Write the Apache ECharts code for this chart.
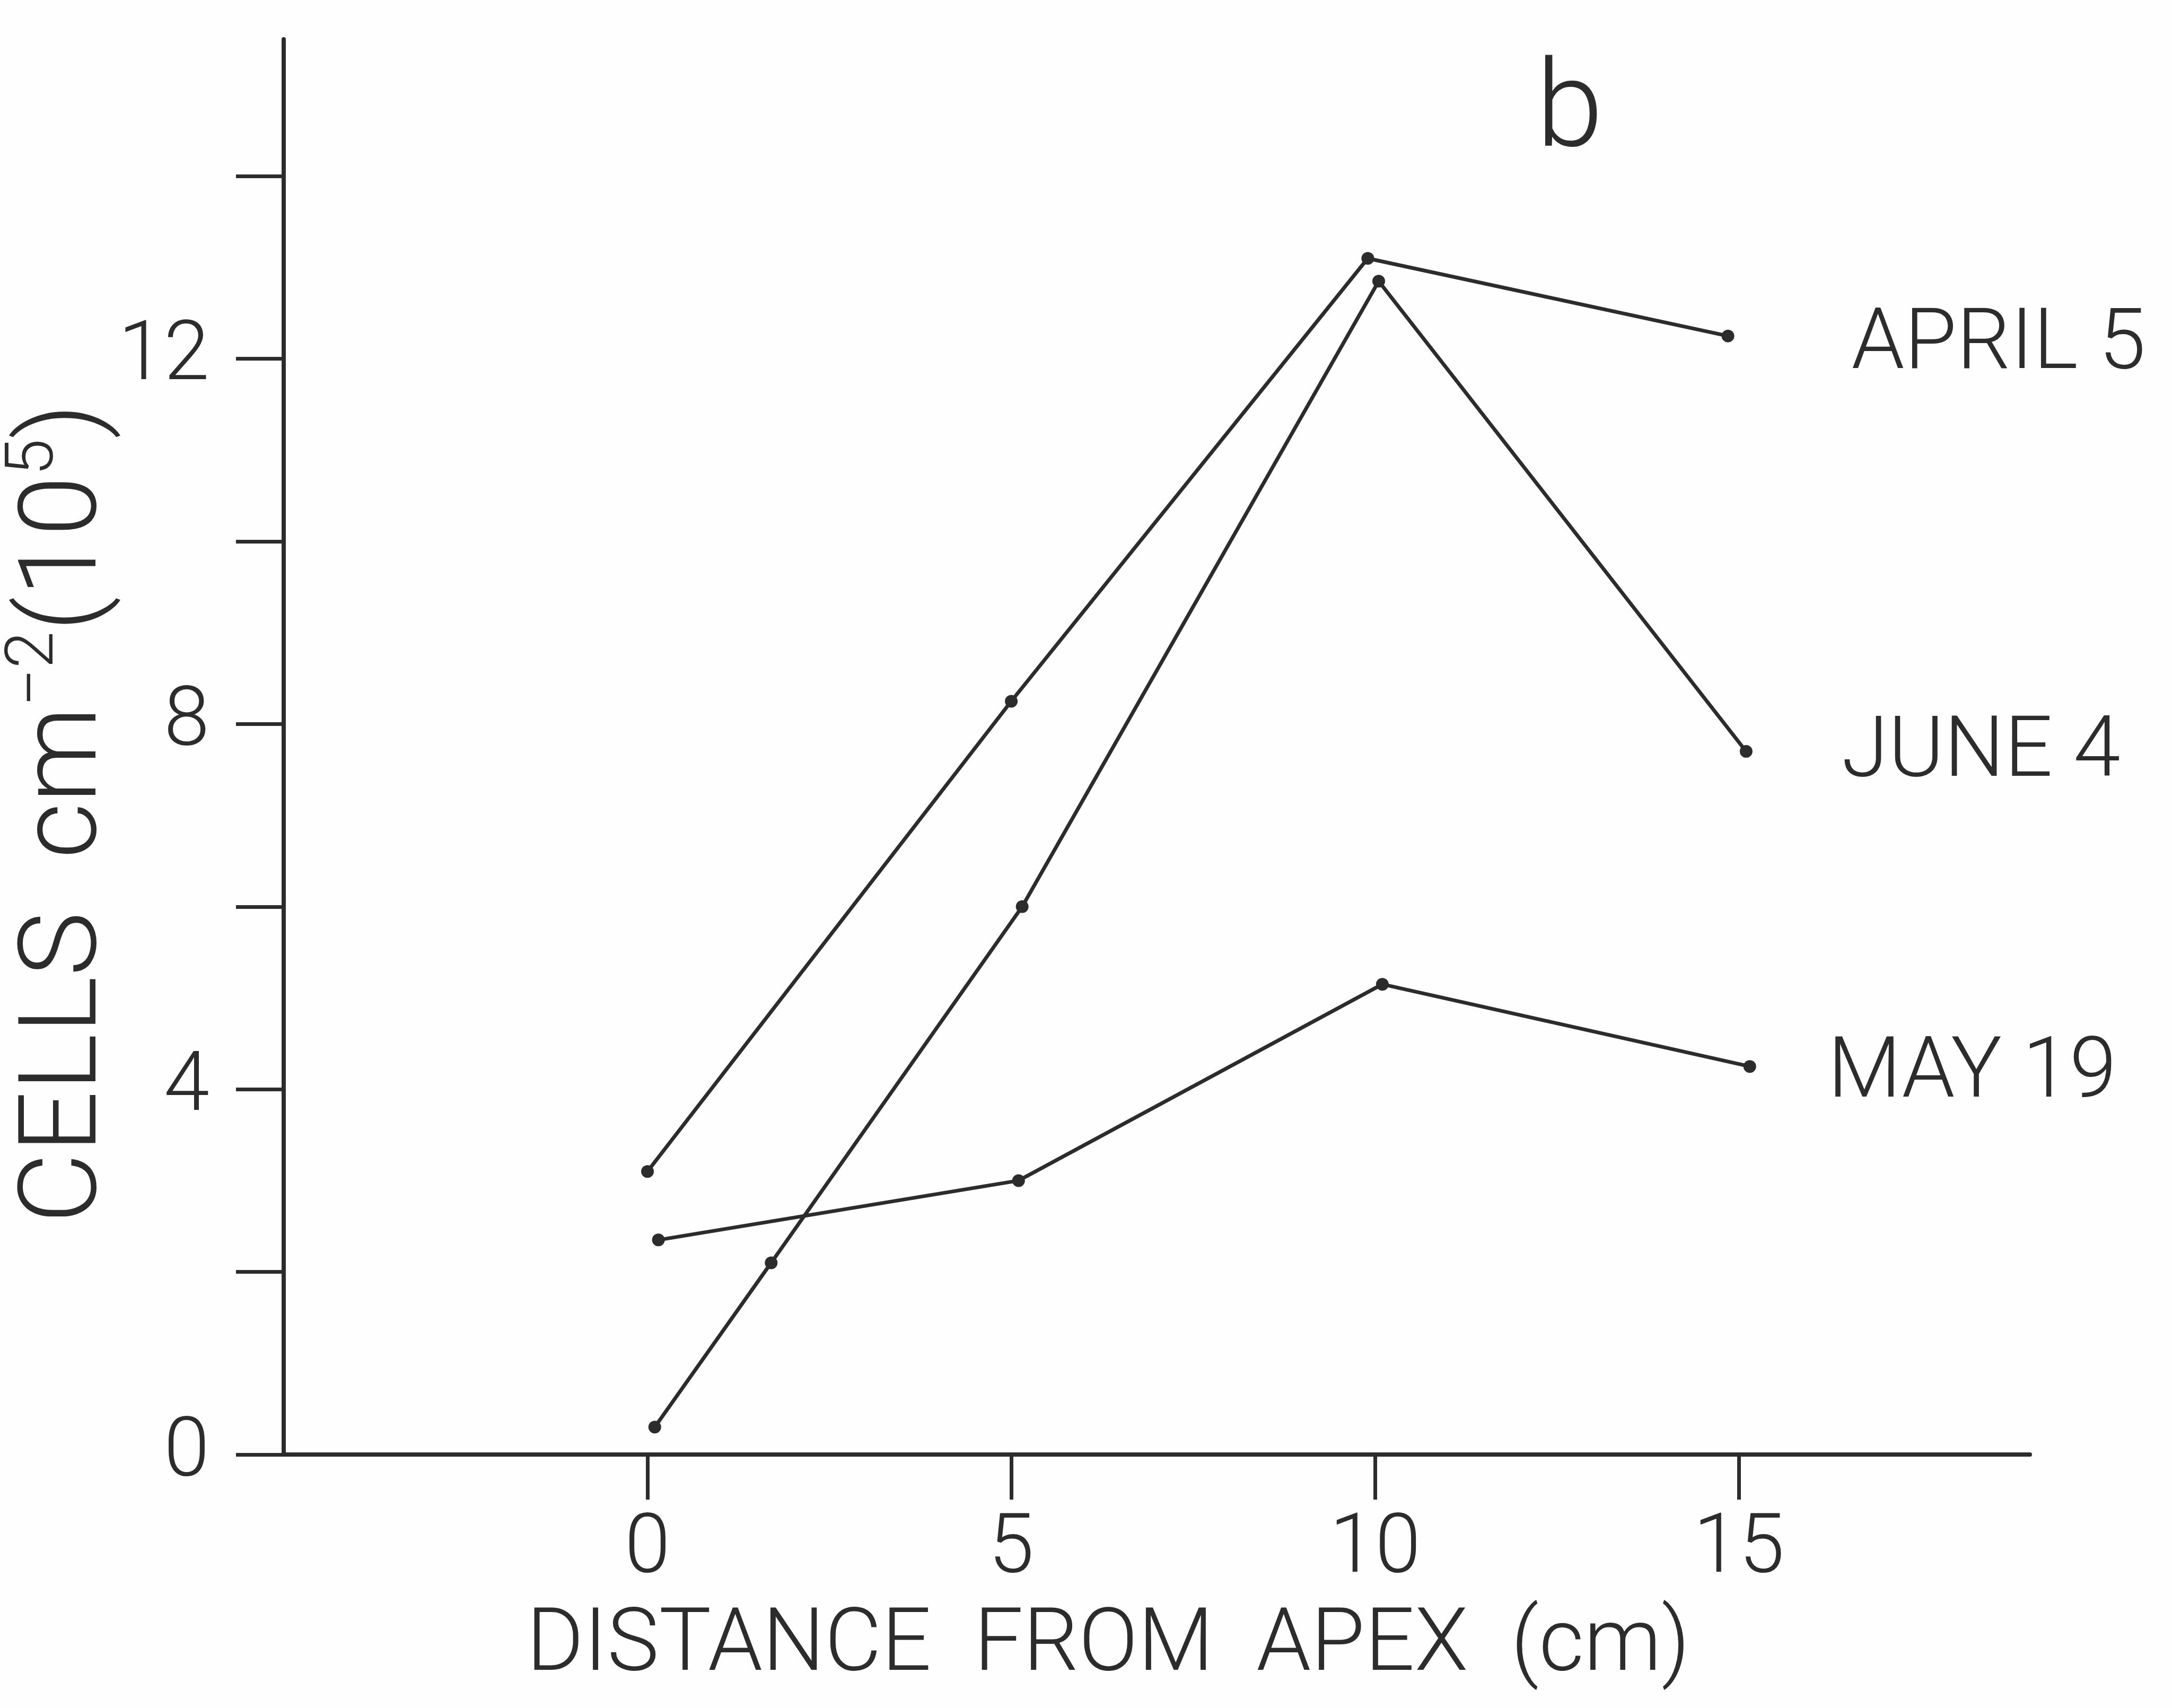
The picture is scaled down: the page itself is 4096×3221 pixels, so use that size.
<!DOCTYPE html>
<html>
<head>
<meta charset="utf-8">
<script src="https://cdn.jsdelivr.net/npm/echarts@6/dist/echarts.min.js"></script>
<style>
html,body{margin:0;padding:0;background:#fdfefd;}
#c{width:4096px;height:3221px;}
</style>
</head>
<body>
<div id="c"></div>
<script>
// ---- data ----
const seriesNames = ['APRIL 5', 'JUNE 4', 'MAY 19'];
const april5X = [0, 5, 9.9, 14.85];
const april5Y = [3.1, 8.25, 13.1, 12.25];
const june4X = [0.1, 1.7, 5.15, 10.05, 15.1];
const june4Y = [0.3, 2.1, 6.0, 12.85, 7.7];
const may19X = [0.15, 5.1, 10.1, 15.15];
const may19Y = [2.35, 3.0, 5.15, 4.25];
const xTickValues = [0, 5, 10, 15];
const yTickValues = [0, 2, 4, 6, 8, 10, 12, 14];
const yLabelValues = [0, 4, 8, 12];
const xTitle = 'DISTANCE  FROM  APEX  (cm)';
const panelLetter = 'b';

// ---- styles ----
const INK = '#2c2c2c';
const FONT = 'Roboto, "DejaVu Sans", sans-serif';
const FW = 300;

function pairs(xs, ys) { return xs.map((x, i) => [x, ys[i]]); }

function mkSeries(name, xs, ys, dist, off) {
  return {
    type: 'line',
    name: name,
    data: pairs(xs, ys),
    symbol: 'circle',
    symbolSize: 24,
    showSymbol: true,
    lineStyle: { color: INK, width: 7 },
    itemStyle: { color: INK },
    endLabel: {
      show: true,
      formatter: () => name,
      distance: dist,
      offset: [0, off],
      fontSize: 160,
      fontFamily: FONT,
      fontWeight: FW,
      color: INK
    },
    emphasis: { disabled: true },
    silent: true,
    animation: false
  };
}

const chart = echarts.init(document.getElementById('c'), null, { renderer: 'canvas' });
chart.setOption({
  backgroundColor: '#fdfefd',
  animation: false,
  grid: { left: 535, right: 268, top: 74, bottom: 478, containLabel: false },
  xAxis: {
    type: 'value',
    min: -5, max: 19, interval: 5,
    axisLine: { show: true, onZero: false, lineStyle: { color: INK, width: 8 } },
    axisTick: { show: true, customValues: xTickValues, length: 85, inside: false, lineStyle: { color: INK, width: 7 } },
    axisLabel: {
      show: true, customValues: xTickValues, margin: 105,
      formatter: v => (xTickValues.indexOf(v) >= 0 ? String(v) : ''),
      fontSize: 155, fontFamily: FONT, fontWeight: FW, color: INK
    },
    splitLine: { show: false }
  },
  yAxis: {
    type: 'value',
    min: 0, max: 15.5, interval: 2,
    axisLine: { show: true, onZero: false, lineStyle: { color: INK, width: 8 } },
    axisTick: { show: true, customValues: yTickValues, length: 90, inside: false, lineStyle: { color: INK, width: 7 } },
    axisLabel: {
      show: true, customValues: yLabelValues, margin: 140,
      formatter: v => (yLabelValues.indexOf(v) >= 0 ? String(v) : ''),
      fontSize: 155, fontFamily: FONT, fontWeight: FW, color: INK
    },
    splitLine: { show: false }
  },
  series: [
    mkSeries(seriesNames[0], april5X, april5Y, 233, 20),
    mkSeries(seriesNames[1], june4X, june4Y, 180, 6),
    mkSeries(seriesNames[2], may19X, may19Y, 147, 17)
  ],
  graphic: [
    {
      type: 'text', x: 2090, y: 3108, silent: true,
      style: {
        text: xTitle, fontSize: 165, fontFamily: FONT, fontWeight: FW,
        fill: INK, align: 'center', verticalAlign: 'middle'
      }
    },
    {
      type: 'text', x: 129, y: 1534, rotation: Math.PI / 2, silent: true,
      style: {
        text: '{a|CELLS  cm}{s|\u22122}{a|(10}{s|5}{a|)}',
        align: 'center', verticalAlign: 'middle', fill: INK,
        fontFamily: FONT, fontWeight: FW, fontSize: 205,
        rich: {
          a: { fontSize: 205, fontFamily: FONT, fontWeight: FW, fill: INK, lineHeight: 250, verticalAlign: 'middle' },
          s: { fontSize: 126, fontFamily: FONT, fontWeight: FW, fill: INK, lineHeight: 136, verticalAlign: 'top' }
        }
      }
    },
    {
      type: 'text', x: 2960, y: 218, silent: true,
      style: {
        text: panelLetter, fontSize: 228, fontFamily: FONT, fontWeight: FW,
        fill: INK, align: 'center', verticalAlign: 'middle'
      }
    }
  ]
});
</script>
</body>
</html>
